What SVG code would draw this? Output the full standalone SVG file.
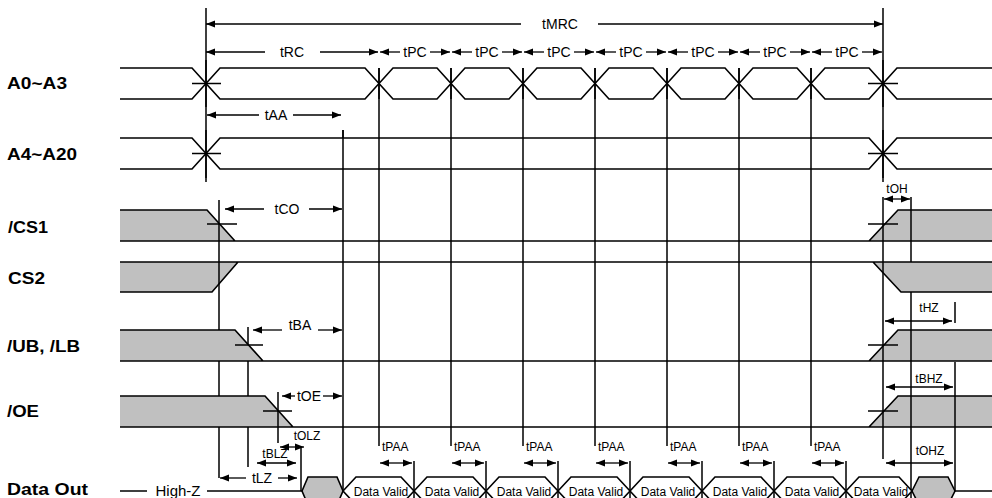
<svg xmlns="http://www.w3.org/2000/svg" width="992" height="498" viewBox="0 0 992 498">
<style>
.sig{fill:none;stroke:#000;stroke-width:1.6;stroke-linejoin:miter}
.hex{fill:#fff;stroke:#000;stroke-width:1.6}
.ghex{fill:#c0c0c0;stroke:#000;stroke-width:1.6}
.gray{fill:#c0c0c0;stroke:none}
.v{fill:none;stroke:#000;stroke-width:1.5}
.arr{fill:none;stroke:#000;stroke-width:1.3}
.lbl{font-family:"Liberation Sans",Arial,sans-serif;font-weight:bold;font-size:17px;fill:#000}
.t{font-family:"Liberation Sans",Arial,sans-serif;font-size:14px;text-anchor:middle;fill:#000}
.s{font-family:"Liberation Sans",Arial,sans-serif;font-size:12px;fill:#000}
.m{text-anchor:middle}
</style>
<defs>
<marker id="a" viewBox="0 0 10 8" refX="10" refY="4" markerWidth="9" markerHeight="8" markerUnits="userSpaceOnUse" orient="auto-start-reverse"><path d="M0,0L10,4L0,8z" fill="#000"/></marker>
</defs>
<rect width="992" height="498" fill="#fff"/>

<g id="labels">
<text class="lbl" x="7" y="89" textLength="60" lengthAdjust="spacingAndGlyphs">A0~A3</text>
<text class="lbl" x="7" y="160" textLength="70" lengthAdjust="spacingAndGlyphs">A4~A20</text>
<text class="lbl" x="8" y="233" textLength="40" lengthAdjust="spacingAndGlyphs">/CS1</text>
<text class="lbl" x="8" y="284" textLength="37" lengthAdjust="spacingAndGlyphs">CS2</text>
<text class="lbl" x="7" y="352" textLength="73" lengthAdjust="spacingAndGlyphs">/UB, /LB</text>
<text class="lbl" x="7" y="417" textLength="32" lengthAdjust="spacingAndGlyphs">/OE</text>
<text class="lbl" x="7" y="495" textLength="81" lengthAdjust="spacingAndGlyphs">Data Out</text>
</g>

<g id="gray-fills">
<polygon class="gray" points="120,210 207,210 235,241 120,241"/>
<polygon class="gray" points="869,241 898,210 992,210 992,241"/>
<polygon class="gray" points="120,262 238,262 212,292 120,292"/>
<polygon class="gray" points="873,262 992,262 992,292 901,292"/>
</g>

<g id="verticals-under">
<path class="v" d="M219,200V330M219,361V396M219,427V478M248,327V396M248,427V467"/>
</g>

<g id="gray-fills-2">
<polygon class="gray" points="120,330 235,330 263,361 120,361"/>
<polygon class="gray" points="869,361 898,330 992,330 992,361"/>
<polygon class="gray" points="120,396 265,396 293,427 120,427"/>
<polygon class="gray" points="869,427 898,396 992,396 992,427"/>
</g>

<g id="verticals">
<path class="v" d="M206,8V182M883,8V182M883,197V459M379,68V446M451,68V446M523,68V446M595,68V446M667,68V446M739,68V446M811,68V446M343,130V491M278,392V443M301,447V491M911,197V262M911,292V498M955,302V323M955,362V491"/>
<path class="v" d="M414,461V498M486,461V498M558,461V498M630,461V498M702,461V498M774,461V498M846,461V498"/>
</g>

<g id="sig-A0-A3">
<path class="sig" d="M120,68H192L206,83.5L192,99H120"/>
<polygon class="hex" points="206,83.5 220,68 365,68 379,83.5 365,99 220,99"/>
<polygon class="hex" points="379,83.5 393,68 437,68 451,83.5 437,99 393,99"/>
<polygon class="hex" points="451,83.5 465,68 509,68 523,83.5 509,99 465,99"/>
<polygon class="hex" points="523,83.5 537,68 581,68 595,83.5 581,99 537,99"/>
<polygon class="hex" points="595,83.5 609,68 653,68 667,83.5 653,99 609,99"/>
<polygon class="hex" points="667,83.5 681,68 725,68 739,83.5 725,99 681,99"/>
<polygon class="hex" points="739,83.5 753,68 797,68 811,83.5 797,99 753,99"/>
<polygon class="hex" points="811,83.5 825,68 869,68 883,83.5 869,99 825,99"/>
<path class="sig" d="M992,68H897L883,83.5L897,99H992"/>
<path class="sig" d="M192,83.5H221M868,83.5H898"/>
<path class="v" d="M206,60V107M883,60V107M379,68V99M451,68V99M523,68V99M595,68V99M667,68V99M739,68V99M811,68V99"/>
</g>

<g id="sig-A4-A20">
<path class="sig" d="M120,138H192L206,153.5L192,169H120"/>
<polygon class="hex" points="206,153.5 220,138 869,138 883,153.5 869,169 220,169"/>
<path class="sig" d="M992,138H897L883,153.5L897,169H992"/>
<path class="sig" d="M192,153.5H221M868,153.5H898"/>
<path class="v" d="M206,130V178M883,130V178M343,130V169M379,138V169M451,138V169M523,138V169M595,138V169M667,138V169M739,138V169M811,138V169"/>
</g>

<g id="sig-CS1">
<path class="sig" d="M120,210H207L235,241M120,241H992M869,241L898,210H992"/>
<path class="sig" d="M207,224H237M868,224H898"/>
</g>

<g id="sig-CS2">
<path class="sig" d="M120,262H992M238,262L212,292H120M873,262L901,292H992"/>
</g>

<g id="sig-UB-LB">
<path class="sig" d="M120,330H235L263,361M120,361H992M869,361L898,330H992"/>
<path class="sig" d="M235,345H263M868,345H898"/>
</g>

<g id="sig-OE">
<path class="sig" d="M120,396H265L293,427M120,427H992M869,427L898,396H992"/>
<path class="sig" d="M263,411H292M868,411H898"/>
</g>

<g id="sig-DataOut">
<path class="sig" d="M120,491H147M207,491H302M955,491H992"/>
<text class="t" x="178" y="496" style="font-size:15px">High-Z</text>
<polygon class="ghex" points="302,491 308,477 337,477 343,491 337,505 308,505"/>
<polygon class="hex" points="343,491 356,477 401,477 414,491 401,505 356,505"/>
<polygon class="hex" points="414,491 427,477 473,477 486,491 473,505 427,505"/>
<polygon class="hex" points="486,491 499,477 545,477 558,491 545,505 499,505"/>
<polygon class="hex" points="558,491 571,477 617,477 630,491 617,505 571,505"/>
<polygon class="hex" points="630,491 643,477 689,477 702,491 689,505 643,505"/>
<polygon class="hex" points="702,491 715,477 761,477 774,491 761,505 715,505"/>
<polygon class="hex" points="774,491 787,477 833,477 846,491 833,505 787,505"/>
<polygon class="hex" points="846,491 859,477 899,477 912,491 899,505 859,505"/>
<polygon class="ghex" points="912,491 919,477 948,477 955,491 948,505 919,505"/>
<text class="s m" x="381" y="496">Data Valid</text>
<text class="s m" x="452" y="496">Data Valid</text>
<text class="s m" x="524" y="496">Data Valid</text>
<text class="s m" x="596" y="496">Data Valid</text>
<text class="s m" x="668" y="496">Data Valid</text>
<text class="s m" x="740" y="496">Data Valid</text>
<text class="s m" x="812" y="496">Data Valid</text>
<text class="s m" x="881" y="496">Data Valid</text>
</g>

<g id="connectors">
<path class="arr" d="M206,24H521" marker-start="url(#a)"/>
<path class="arr" d="M598,24H883" marker-end="url(#a)"/>
<path class="arr" d="M206,52H265" marker-start="url(#a)"/>
<path class="arr" d="M320,52H378" marker-end="url(#a)"/>
<path class="arr" d="M380,52H400" marker-start="url(#a)"/><path class="arr" d="M430,52H450" marker-end="url(#a)"/>
<path class="arr" d="M452,52H472" marker-start="url(#a)"/><path class="arr" d="M502,52H522" marker-end="url(#a)"/>
<path class="arr" d="M524,52H544" marker-start="url(#a)"/><path class="arr" d="M574,52H594" marker-end="url(#a)"/>
<path class="arr" d="M596,52H616" marker-start="url(#a)"/><path class="arr" d="M646,52H666" marker-end="url(#a)"/>
<path class="arr" d="M668,52H688" marker-start="url(#a)"/><path class="arr" d="M718,52H738" marker-end="url(#a)"/>
<path class="arr" d="M740,52H760" marker-start="url(#a)"/><path class="arr" d="M790,52H810" marker-end="url(#a)"/>
<path class="arr" d="M812,52H832" marker-start="url(#a)"/><path class="arr" d="M862,52H882" marker-end="url(#a)"/>
<path class="arr" d="M207,115H259" marker-start="url(#a)"/>
<path class="arr" d="M293,115H341" marker-end="url(#a)"/>
<path class="arr" d="M225,209H264" marker-start="url(#a)"/>
<path class="arr" d="M309,209H342" marker-end="url(#a)"/>
<path class="arr" d="M253,330H282" marker-start="url(#a)"/>
<path class="arr" d="M318,330H342" marker-end="url(#a)"/>
<path class="arr" d="M282,396H295" marker-start="url(#a)"/>
<path class="arr" d="M323,396H342" marker-end="url(#a)"/>
<path class="arr" d="M280,447H304" marker-start="url(#a)" marker-end="url(#a)"/>
<path class="arr" d="M257,463H296" marker-start="url(#a)" marker-end="url(#a)"/>
<path class="arr" d="M220,478H246" marker-start="url(#a)"/>
<path class="arr" d="M278,478H297" marker-end="url(#a)"/>
<path class="arr" d="M380,463H412" marker-start="url(#a)" marker-end="url(#a)"/>
<path class="arr" d="M452,463H484" marker-start="url(#a)" marker-end="url(#a)"/>
<path class="arr" d="M524,463H556" marker-start="url(#a)" marker-end="url(#a)"/>
<path class="arr" d="M596,463H628" marker-start="url(#a)" marker-end="url(#a)"/>
<path class="arr" d="M668,463H700" marker-start="url(#a)" marker-end="url(#a)"/>
<path class="arr" d="M740,463H772" marker-start="url(#a)" marker-end="url(#a)"/>
<path class="arr" d="M812,463H844" marker-start="url(#a)" marker-end="url(#a)"/>
<path class="arr" d="M884,199H910" marker-start="url(#a)" marker-end="url(#a)"/>
<path class="arr" d="M885,321H952" marker-start="url(#a)" marker-end="url(#a)"/>
<path class="arr" d="M886,387H953" marker-start="url(#a)" marker-end="url(#a)"/>
<path class="arr" d="M886,463H953" marker-start="url(#a)" marker-end="url(#a)"/>
</g>

<g id="timing-labels">
<text class="t" x="560" y="29">tMRC</text>
<text class="t" x="292" y="57">tRC</text>
<text class="t" x="415" y="57">tPC</text>
<text class="t" x="487" y="57">tPC</text>
<text class="t" x="559" y="57">tPC</text>
<text class="t" x="631" y="57">tPC</text>
<text class="t" x="703" y="57">tPC</text>
<text class="t" x="775" y="57">tPC</text>
<text class="t" x="847" y="57">tPC</text>
<text class="t" x="276" y="120">tAA</text>
<text class="t" x="287" y="214">tCO</text>
<text class="t" x="300" y="330">tBA</text>
<text class="t" x="309" y="401">tOE</text>
<text class="s m" x="307" y="440">tOLZ</text>
<text class="s m" x="275" y="458">tBLZ</text>
<text class="t" x="262" y="483">tLZ</text>
<text class="s" x="382" y="451">tPAA</text>
<text class="s" x="454" y="451">tPAA</text>
<text class="s" x="526" y="451">tPAA</text>
<text class="s" x="598" y="451">tPAA</text>
<text class="s" x="670" y="451">tPAA</text>
<text class="s" x="742" y="451">tPAA</text>
<text class="s" x="814" y="451">tPAA</text>
<text class="s m" x="897" y="193">tOH</text>
<text class="s m" x="929" y="312">tHZ</text>
<text class="s m" x="929" y="383">tBHZ</text>
<text class="s m" x="930" y="455">tOHZ</text>
</g>
</svg>
